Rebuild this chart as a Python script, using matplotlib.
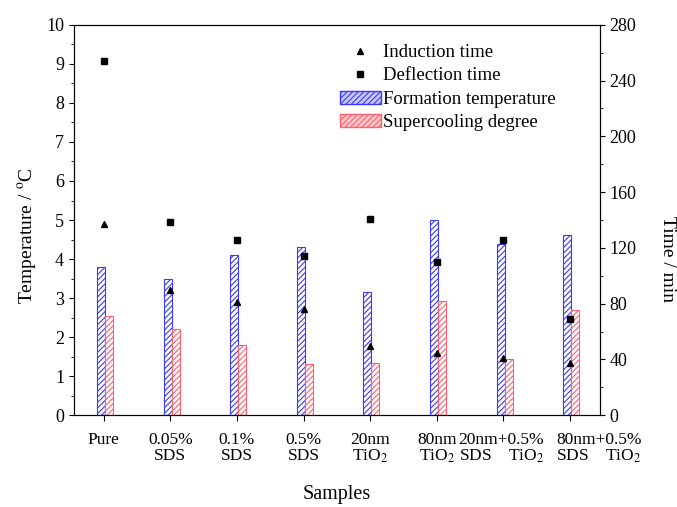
import numpy as np
import matplotlib.pyplot as plt
import matplotlib.transforms as mtransforms
from matplotlib.ticker import MultipleLocator
from matplotlib.lines import Line2D
from matplotlib.patches import Patch

plt.rcParams['font.family'] = ['Liberation Serif', 'DejaVu Serif']
plt.rcParams['mathtext.fontset'] = 'stix'
plt.rcParams['hatch.linewidth'] = 0.8

samples = ['Pure', '0.05%\nSDS', '0.1%\nSDS', '0.5%\nSDS', '20nm\nTiO$_2$',
           '80nm\nTiO$_2$', '20nm+0.5%\nSDS    TiO$_2$', '80nm+0.5%\nSDS    TiO$_2$']
formation_temp = [3.80, 3.50, 4.10, 4.32, 3.16, 5.00, 4.39, 4.62]
supercooling = [2.54, 2.20, 1.80, 1.31, 1.34, 2.93, 1.45, 2.69]
induction_time = [137.5, 90, 81, 76.5, 49.5, 44.5, 41, 37.7]
deflection_time = [254, 138.7, 125.5, 114.5, 140.6, 110, 126, 69.3]

x = np.arange(len(samples))
w = 0.12

fig = plt.figure(figsize=(6.77, 5.07), dpi=100)
ax = fig.add_axes([0.109, 0.181, 0.777, 0.770])

ax.bar(x - 0.04, formation_temp, w, facecolor='white', edgecolor='#3a3aff',
       hatch='//////', linewidth=0.8, zorder=2)
ax.bar(x + 0.08, supercooling, w, facecolor='white', edgecolor='#ff6070',
       hatch='//////', linewidth=0.8, zorder=2)

ax.set_xlim(-0.45, 7.45)
ax.set_ylim(0, 10)
ax.yaxis.set_major_locator(MultipleLocator(1))
ax.yaxis.set_minor_locator(MultipleLocator(0.5))
ax.set_xticks(x)
ax.set_xticklabels(samples, linespacing=1.0)
ax.tick_params(axis='both', direction='out', labelsize=13)
ax.tick_params(axis='x', length=4, pad=8, labelsize=12.5)
ax.set_ylabel('Temperature / $^{\\rm o}$C', fontsize=14)
ax.yaxis.set_label_coords(-0.066, 0.46)
ax.set_xlabel('Samples', fontsize=14.5, labelpad=14)

# the last two labels sit off their ticks in the original
tl = ax.get_xticklabels()
tl[6].set_transform(tl[6].get_transform() + mtransforms.ScaledTranslation(-2 / 100, 0, fig.dpi_scale_trans))
tl[7].set_transform(tl[7].get_transform() + mtransforms.ScaledTranslation(29 / 100, 0, fig.dpi_scale_trans))

ax2 = ax.twinx()
ax2.plot(x, induction_time, '^', color='black', markersize=5, zorder=3)
ax2.plot(x, deflection_time, 's', color='black', markersize=4.5, zorder=3)
ax2.set_ylim(0, 280)
ax2.yaxis.set_major_locator(MultipleLocator(40))
ax2.yaxis.set_minor_locator(MultipleLocator(20))
ax2.tick_params(axis='y', direction='out', labelsize=13)
ax2.set_ylabel('Time / min', fontsize=14, rotation=270, va='center')
ax2.yaxis.set_label_coords(1.128, 0.40)

handles = [Line2D([], [], marker='^', color='black', linestyle='none', markersize=5),
           Line2D([], [], marker='s', color='black', linestyle='none', markersize=4.5),
           Patch(facecolor='#c8c8ff', edgecolor='#3a3aff', hatch='//////'),
           Patch(facecolor='#ffc8c8', edgecolor='#ff6070', hatch='//////')]
labels = ['Induction time', 'Deflection time', 'Formation temperature', 'Supercooling degree']
ax2.legend(handles, labels, loc='upper right', bbox_to_anchor=(0.93, 0.97), frameon=False,
           borderaxespad=0, fontsize=13.5, handlelength=2.2, handletextpad=0.1,
           labelspacing=0.33)

fig.savefig('out.png', dpi=100)
